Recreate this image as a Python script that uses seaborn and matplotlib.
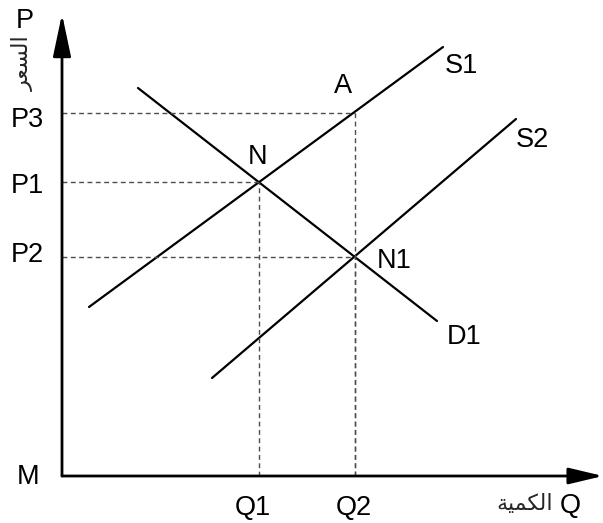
import matplotlib
import matplotlib.pyplot as plt
import pandas as pd
import seaborn as sns

matplotlib.use("Agg")

# supply / demand lines, (quantity, price) end points
curve_names = ["S1", "S1", "S2", "S2", "D1", "D1"]
curve_q = [27, 381, 150, 454, 76, 375]
curve_p = [169, 429, 98, 357, 388, 155]

# equilibrium points N, N1 and point A
point_names = ["N", "N1", "A"]
point_q = [197, 293, 293]
point_p = [294, 219, 363]

# arabic words written in presentation forms, visual order
price_ar = "\uFEAE\uFECC\uFEB4\uFEDF\uFE8D"
qty_ar = "\uFE94\uFEF4\uFEE4\uFEDC\uFEDF\uFE8D"

sns.set_theme(style="white")
plt.rcParams["font.family"] = ["Liberation Sans", "DejaVu Sans"]

fig = plt.figure(figsize=(6.03, 5.23), dpi=100)
ax = fig.add_axes([0, 0, 1, 1])
ax.set_xlim(-62, 541)
ax.set_ylim(-47, 476)
ax.axis("off")

df = pd.DataFrame({"q": curve_q, "p": curve_p, "curve": curve_names})
sns.lineplot(
    data=df, x="q", y="p", units="curve", estimator=None, sort=False,
    color="black", linewidth=1.6, ax=ax, legend=False,
)

# dashed guide lines to the axes
dash = dict(color="#4d4d4d", linewidth=1.0, linestyle=(0, (3.5, 2.5)))
for q, p in zip(point_q, point_p):
    ax.plot([0, q], [p, p], **dash)
    ax.plot([q, q], [0, p], **dash)

# axes with arrows
ax.annotate("", xy=(0, 462), xytext=(0, 0),
            arrowprops=dict(arrowstyle="-|>,head_length=26,head_width=5.5",
                            mutation_scale=1, lw=2, color="black",
                            shrinkA=0, shrinkB=0))
ax.annotate("", xy=(541, 0), xytext=(0, 0),
            arrowprops=dict(arrowstyle="-|>,head_length=21,head_width=5",
                            mutation_scale=1, lw=2, color="black",
                            shrinkA=0, shrinkB=0))

fs = 19.5
labels = [
    ("P", -46, 448), ("P3", -51, 349), ("P1", -51, 283), ("P2", -51, 214),
    ("M", -45, -8), ("Q1", 173, -39), ("Q2", 274, -39), ("Q", 498, -37),
    ("A", 272, 383), ("S1", 383, 403), ("S2", 454, 329), ("N", 186, 312),
    ("N1", 315, 208), ("D1", 385, 132),
]
for s, x, y in labels:
    ax.text(x, y, s, fontsize=fs, ha="left", va="baseline", color="black")

ax.text(-39, 413, price_ar, fontsize=16, rotation=90, ha="center", va="center",
        family=["DejaVu Sans"])
ax.text(491, -28, qty_ar, fontsize=16, ha="right", va="center",
        family=["DejaVu Sans"])

fig.savefig("out.png", dpi=100)
